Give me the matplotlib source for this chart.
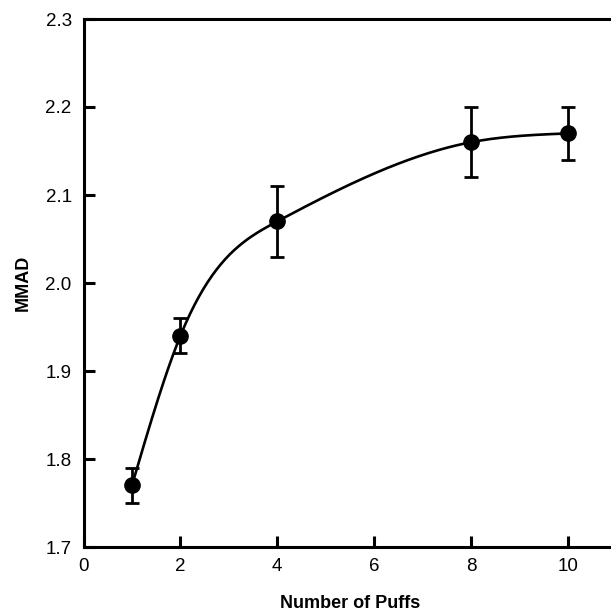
import matplotlib
matplotlib.use('Agg')
import matplotlib.pyplot as plt
import numpy as np

plt.rcParams['font.family'] = ['Liberation Sans', 'DejaVu Sans']

# data
puffs = [1, 2, 4, 8, 10]
mmad = [1.77, 1.94, 2.07, 2.16, 2.17]
mmad_err = [0.02, 0.02, 0.04, 0.04, 0.03]


def natural_spline(x, y, xs):
    x = np.asarray(x, float)
    y = np.asarray(y, float)
    n = len(x)
    h = np.diff(x)
    A = np.zeros((n, n))
    b = np.zeros(n)
    A[0, 0] = 1
    A[-1, -1] = 1
    for i in range(1, n - 1):
        A[i, i - 1] = h[i - 1]
        A[i, i] = 2 * (h[i - 1] + h[i])
        A[i, i + 1] = h[i]
        b[i] = 6 * ((y[i + 1] - y[i]) / h[i] - (y[i] - y[i - 1]) / h[i - 1])
    m = np.linalg.solve(A, b)
    out = []
    for v in xs:
        i = min(max(np.searchsorted(x, v) - 1, 0), n - 2)
        t0 = x[i + 1] - v
        t1 = v - x[i]
        val = (m[i] * t0 ** 3 + m[i + 1] * t1 ** 3) / (6 * h[i]) \
            + (y[i] / h[i] - m[i] * h[i] / 6) * t0 \
            + (y[i + 1] / h[i] - m[i + 1] * h[i] / 6) * t1
        out.append(val)
    return np.array(out)


fig = plt.figure(figsize=(6.11, 6.16), dpi=100)
ax = fig.add_axes([83.5 / 611, 69 / 616, 11 * 48.45 / 611, 528 / 616])

xs = np.linspace(puffs[0], puffs[-1], 300)
ax.plot(xs, natural_spline(puffs, mmad, xs), color='black', linewidth=1.9)
ax.errorbar(puffs, mmad, yerr=mmad_err, fmt='o', color='black', markersize=11,
            capsize=5, elinewidth=2, capthick=2)

ax.set_xlim(0, 11)
ax.set_ylim(1.7, 2.3)
ax.set_xticks([0, 2, 4, 6, 8, 10])
ax.set_yticks([1.7, 1.8, 1.9, 2.0, 2.1, 2.2, 2.3])
ax.set_yticklabels(['1.7', '1.8', '1.9', '2.0', '2.1', '2.2', '2.3'])
ax.tick_params(direction='in', length=8, width=2.2, labelsize=13.5)
ax.tick_params(axis='x', pad=8)
ax.tick_params(axis='y', pad=8.5)
for s in ax.spines.values():
    s.set_linewidth(2.2)

ax.set_xlabel('Number of Puffs', fontsize=13, fontweight='bold', labelpad=14.5)
ax.set_ylabel('MMAD', fontsize=13, fontweight='bold', labelpad=10)

plt.savefig('out.png', dpi=100)
